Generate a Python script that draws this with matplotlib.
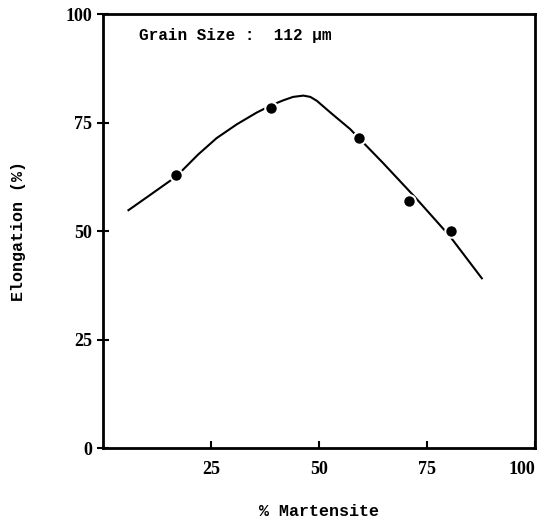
import matplotlib
matplotlib.use("Agg")
import matplotlib.pyplot as plt

# measured elongation vs martensite fraction
martensite = [17.0, 38.8, 59.3, 70.9, 80.5]
elongation = [62.8, 78.4, 71.4, 57.0, 50.0]

# hand-drawn trend curve
curve_x = [5.9, 10.9, 17.0, 22.0, 26.3, 31.0, 35.6, 38.8, 41.7, 44.0, 46.4,
           48.0, 49.5, 53.0, 57.2, 64.9, 72.6, 80.3, 87.7]
curve_y = [54.8, 58.3, 62.6, 67.6, 71.4, 74.6, 77.3, 78.9, 80.1, 80.9, 81.2,
           80.9, 80.0, 77.0, 73.5, 65.6, 57.4, 48.8, 39.1]

x_ticks = [25, 50, 75, 100]
y_ticks = [0, 25, 50, 75, 100]

mono = ["Liberation Mono", "DejaVu Sans Mono"]
narrow = ["Liberation Sans Narrow", "Liberation Serif", "DejaVu Serif"]

fig = plt.figure(figsize=(5.4, 5.21), dpi=100)
ax = fig.add_axes([0.1907, 0.1401, 0.800, 0.833])

ax.plot(curve_x, curve_y, color="black", lw=1.5, zorder=2)
ax.plot(martensite, elongation, "o", color="black", ms=8,
        mec="white", mew=2.5, zorder=3)
ax.plot(martensite, elongation, "o", color="black", ms=7.5, mew=0, zorder=4)

ax.set_xlim(0, 100)
ax.set_ylim(0, 100)
ax.set_xticks(x_ticks)
ax.set_yticks(y_ticks)
ax.set_xticklabels([str(t) for t in x_ticks], family=narrow, fontsize=13, fontweight="bold")
ax.set_yticklabels([str(t) for t in y_ticks], family=narrow, fontsize=13, fontweight="bold")
ax.get_xticklabels()[-1].set_ha("right")
ax.tick_params(axis="x", direction="in", length=5, width=1.5, pad=9)
ax.tick_params(axis="y", direction="inout", length=8, width=1.5, pad=4)

for s in ax.spines.values():
    s.set_linewidth(2)

ax.set_xlabel("% Martensite", family=mono, fontsize=12, fontweight="bold", labelpad=19)
ax.set_ylabel("Elongation (%)", family=mono, fontsize=12, fontweight="bold", labelpad=28)

ax.text(0.083, 0.95, "Grain Size :  112 \u03bcm", transform=ax.transAxes,
        family=mono, fontsize=11.5, fontweight="bold", va="center", ha="left")

fig.savefig("out.png", dpi=100)
